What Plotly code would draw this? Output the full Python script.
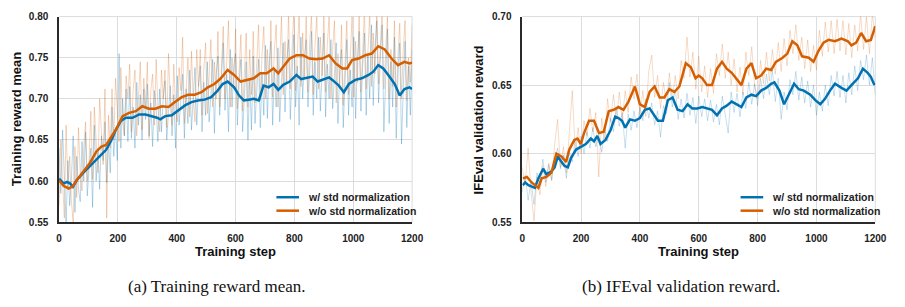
import plotly.graph_objects as go

# ---------------- Data: (a) Training reward mean ----------------
raw_steps_a = list(range(0, 1201, 6))
raw_a_std = [
    0.640,0.585,0.662,0.612,0.548,0.625,0.570,0.603,0.655,0.562,
    0.630,0.590,0.575,0.648,0.600,0.660,0.582,0.615,0.640,0.568,
    0.668,0.600,0.640,0.590,0.655,0.625,0.672,0.598,0.650,0.610,
    0.690,0.630,0.665,0.625,0.755,0.640,0.700,0.655,0.712,0.648,
    0.715,0.652,0.690,0.640,0.720,0.668,0.705,0.650,0.712,0.675,
    0.718,0.655,0.695,0.642,0.710,0.690,0.648,0.712,0.660,0.700,
    0.722,0.650,0.690,0.716,0.655,0.705,0.640,0.728,0.668,0.700,
    0.730,0.652,0.712,0.670,0.735,0.662,0.700,0.738,0.668,0.715,
    0.740,0.660,0.720,0.680,0.745,0.672,0.705,0.748,0.658,0.730,
    0.752,0.680,0.725,0.768,0.686,0.730,0.660,0.760,0.690,0.740,
    0.755,0.668,0.720,0.748,0.660,0.705,0.745,0.650,0.725,0.662,
    0.752,0.670,0.715,0.748,0.665,0.730,0.680,0.765,0.676,0.740,
    0.770,0.668,0.735,0.690,0.762,0.672,0.720,0.768,0.684,0.745,
    0.772,0.675,0.730,0.778,0.690,0.740,0.668,0.775,0.700,0.750,
    0.772,0.690,0.735,0.782,0.680,0.745,0.700,0.775,0.685,0.740,
    0.780,0.678,0.742,0.700,0.772,0.688,0.730,0.768,0.670,0.735,
    0.760,0.665,0.720,0.772,0.680,0.735,0.690,0.775,0.676,0.745,
    0.782,0.685,0.740,0.780,0.680,0.752,0.700,0.790,0.692,0.760,
    0.795,0.695,0.750,0.790,0.660,0.735,0.785,0.670,0.745,0.690,
    0.775,0.652,0.730,0.768,0.645,0.712,0.770,0.665,0.740,0.680,
    0.760]
raw_a_nostd = [
    0.570,0.650,0.600,0.555,0.668,0.590,0.630,0.575,0.550,0.642,
    0.580,0.665,0.610,0.588,0.640,0.672,0.600,0.625,0.685,0.602,
    0.690,0.640,0.610,0.700,0.655,0.620,0.712,0.555,0.680,0.640,
    0.712,0.650,0.725,0.690,0.648,0.738,0.672,0.655,0.728,0.700,
    0.742,0.660,0.712,0.735,0.655,0.700,0.745,0.662,0.725,0.690,
    0.745,0.652,0.710,0.730,0.668,0.748,0.690,0.660,0.735,0.700,
    0.735,0.665,0.755,0.700,0.668,0.742,0.690,0.672,0.738,0.710,
    0.775,0.670,0.720,0.750,0.678,0.758,0.700,0.672,0.760,0.715,
    0.760,0.680,0.735,0.768,0.682,0.720,0.772,0.690,0.745,0.700,
    0.782,0.690,0.740,0.788,0.700,0.760,0.795,0.690,0.750,0.712,
    0.785,0.688,0.745,0.778,0.685,0.730,0.780,0.690,0.760,0.705,
    0.782,0.695,0.740,0.790,0.698,0.755,0.788,0.700,0.760,0.712,
    0.795,0.702,0.760,0.790,0.690,0.750,0.800,0.705,0.770,0.720,
    0.805,0.712,0.765,0.808,0.710,0.770,0.805,0.715,0.780,0.725,
    0.800,0.708,0.770,0.802,0.705,0.765,0.800,0.712,0.775,0.728,
    0.806,0.708,0.768,0.800,0.700,0.760,0.795,0.695,0.755,0.715,
    0.790,0.692,0.750,0.795,0.705,0.765,0.800,0.702,0.770,0.720,
    0.805,0.708,0.772,0.808,0.712,0.770,0.805,0.715,0.780,0.730,
    0.812,0.718,0.775,0.808,0.712,0.765,0.800,0.700,0.760,0.715,
    0.795,0.690,0.755,0.792,0.700,0.760,0.795,0.698,0.750,0.720,
    0.790]

sm_steps_a_std = [0,16,27,38,47,60,82,105,121,138,160,177,194,210,227,250,272,294,316,333,344,361,383,405,428,450,472,495,517,539,
                  556,573,595,612,628,645,662,679,695,712,729,745,762,784,807,823,840,862,879,896,918,929,951,968,985,1007,1029,1052,
                  1068,1085,1102,1119,1141,1158,1174,1191,1200]
sm_a_std = [0.603,0.597,0.599,0.597,0.593,0.601,0.610,0.618,0.624,0.630,0.638,0.649,0.663,0.673,0.677,0.677,0.681,0.681,0.679,0.677,
            0.675,0.679,0.680,0.686,0.692,0.696,0.698,0.699,0.702,0.710,0.718,0.721,0.714,0.704,0.698,0.699,0.700,0.698,0.716,0.714,
            0.718,0.711,0.717,0.721,0.729,0.724,0.725,0.727,0.721,0.723,0.726,0.723,0.716,0.708,0.718,0.723,0.725,0.729,0.733,0.741,
            0.737,0.729,0.718,0.704,0.712,0.714,0.712]

sm_steps_a_nostd = [0,16,33,47,60,82,105,127,144,160,177,194,216,238,261,283,305,327,350,372,394,417,439,461,484,506,528,550,573,595,
                    617,640,662,684,706,729,745,762,784,807,829,851,873,896,918,940,963,979,996,1018,1041,1063,1085,1107,1130,1152,
                    1174,1191,1200]
sm_a_nostd = [0.601,0.594,0.591,0.594,0.601,0.612,0.622,0.636,0.642,0.644,0.653,0.663,0.679,0.683,0.685,0.691,0.688,0.688,0.691,0.690,
              0.696,0.702,0.705,0.705,0.708,0.714,0.718,0.725,0.735,0.729,0.721,0.723,0.725,0.731,0.731,0.737,0.731,0.739,0.749,0.753,
              0.753,0.749,0.748,0.749,0.753,0.743,0.737,0.737,0.747,0.749,0.753,0.755,0.764,0.760,0.749,0.741,0.745,0.743,0.744]

# ---------------- Data: (b) IFEval validation reward ----------------
raw_steps_b = list(range(0, 1201, 10))
raw_b_std = [0.572,0.584,0.566,0.580,0.563,0.586,0.578,0.596,0.579,0.592,0.581,0.596,0.604,0.589,0.599,0.582,0.601,0.594,0.611,0.598,
             0.613,0.600,0.616,0.604,0.619,0.605,0.615,0.601,0.618,0.609,0.626,0.616,0.633,0.620,0.630,0.604,0.629,0.617,0.631,0.619,
             0.634,0.624,0.640,0.626,0.637,0.621,0.631,0.612,0.635,0.629,0.652,0.634,0.647,0.625,0.640,0.626,0.644,0.628,0.641,0.622,
             0.642,0.627,0.640,0.624,0.639,0.623,0.636,0.621,0.642,0.627,0.615,0.645,0.630,0.644,0.627,0.645,0.633,0.652,0.636,0.651,
             0.635,0.655,0.640,0.658,0.643,0.661,0.638,0.655,0.625,0.645,0.632,0.654,0.643,0.660,0.639,0.656,0.637,0.653,0.634,0.650,
             0.628,0.645,0.631,0.650,0.635,0.657,0.642,0.660,0.641,0.657,0.637,0.659,0.643,0.664,0.646,0.668,0.654,0.672,0.650,0.670,
             0.643]
raw_b_nostd = [0.590,0.578,0.604,0.572,0.551,0.583,0.570,0.591,0.576,0.593,0.580,0.606,0.625,0.590,0.605,0.586,0.615,0.646,0.602,0.619,
               0.600,0.624,0.613,0.633,0.616,0.630,0.583,0.626,0.609,0.640,0.623,0.643,0.625,0.645,0.624,0.646,0.630,0.656,0.640,0.658,
               0.628,0.646,0.627,0.660,0.672,0.641,0.657,0.633,0.652,0.636,0.659,0.639,0.657,0.640,0.668,0.655,0.685,0.656,0.674,0.647,
               0.671,0.645,0.664,0.641,0.662,0.644,0.673,0.657,0.680,0.655,0.674,0.650,0.669,0.645,0.663,0.643,0.674,0.657,0.678,0.649,
               0.640,0.668,0.651,0.674,0.653,0.676,0.658,0.681,0.660,0.684,0.664,0.690,0.673,0.694,0.668,0.685,0.662,0.683,0.660,0.679,
               0.661,0.690,0.671,0.696,0.674,0.697,0.673,0.698,0.675,0.697,0.672,0.695,0.670,0.694,0.675,0.702,0.676,0.700,0.673,0.702,
               0.684]

sm_steps_b_std = [2,10,21,32,43,55,71,82,99,110,121,133,144,155,166,183,199,216,233,244,255,266,283,300,316,327,339,350,366,383,
                  400,417,433,450,461,478,495,511,528,545,562,578,595,612,628,645,662,679,695,712,729,745,762,779,795,812,829,846,
                  857,874,890,907,924,940,957,979,996,1013,1029,1046,1063,1085,1102,1119,1141,1158,1174,1185,1197]
sm_b_std = [0.577,0.579,0.577,0.576,0.575,0.582,0.589,0.585,0.587,0.590,0.598,0.594,0.591,0.590,0.597,0.603,0.605,0.607,0.611,0.609,
            0.613,0.607,0.610,0.617,0.627,0.626,0.624,0.619,0.625,0.624,0.626,0.632,0.633,0.628,0.624,0.624,0.639,0.641,0.632,0.631,
            0.636,0.633,0.633,0.634,0.633,0.632,0.628,0.633,0.635,0.638,0.636,0.634,0.641,0.643,0.642,0.646,0.648,0.651,0.652,0.646,
            0.636,0.643,0.651,0.647,0.646,0.643,0.639,0.636,0.640,0.646,0.651,0.648,0.646,0.650,0.655,0.662,0.659,0.656,0.650]

sm_steps_b_nostd = [2,16,32,55,66,82,99,116,133,149,160,177,188,199,210,227,244,261,277,294,311,327,344,361,383,400,417,433,450,467,
                    483,500,517,534,556,573,589,600,612,628,645,662,679,695,712,729,745,762,779,795,812,829,846,862,885,901,918,935,
                    951,974,990,1007,1024,1041,1063,1085,1107,1119,1135,1152,1169,1185,1200]
sm_b_nostd = [0.582,0.583,0.579,0.575,0.582,0.583,0.586,0.600,0.598,0.594,0.603,0.610,0.611,0.607,0.615,0.624,0.624,0.615,0.616,0.631,
              0.632,0.634,0.632,0.638,0.649,0.636,0.634,0.645,0.649,0.641,0.641,0.647,0.645,0.649,0.666,0.663,0.655,0.657,0.655,0.650,
              0.650,0.662,0.667,0.662,0.659,0.654,0.650,0.662,0.666,0.655,0.657,0.662,0.661,0.667,0.670,0.673,0.682,0.679,0.671,0.670,
              0.667,0.675,0.681,0.683,0.682,0.684,0.682,0.679,0.681,0.688,0.682,0.683,0.693]

series_names = ["w/ std normalization", "w/o std normalization"]
x_ticks = [0, 200, 400, 600, 800, 1000, 1200]
y_ticks_a = [0.55, 0.60, 0.65, 0.70, 0.75, 0.80]
y_ticks_b = [0.55, 0.60, 0.65, 0.70]
captions = ["(a) Training reward mean.", "(b) IFEval validation reward."]
x_title = "Training step"
y_titles = ["Training reward mean", "IFEval validation reward"]

# ---------------- Styling ----------------
W, H = 905, 307
BLUE = "#0072B2"
ORANGE = "#D55E00"
BLUE_RAW_A = "rgba(0,114,178,0.28)"
ORANGE_RAW_A = "rgba(213,94,0,0.26)"
BLUE_RAW_B = "rgba(0,114,178,0.22)"
ORANGE_RAW_B = "rgba(213,94,0,0.22)"
SANS = "Liberation Sans, Arial, sans-serif"
SERIF = "Liberation Serif, Times New Roman, serif"
GRID = "#dcdcdc"
AXIS = "#2a2a2a"

def px_x(p):
    return p / W

def px_y(p):
    return 1 - p / H

ydom = [px_y(225), px_y(11)]
xdom_a = [px_x(57), px_x(416)]
xdom_b = [px_x(528), px_x(887)]

fig = go.Figure()

def add_panel(xa, ya, rs, r1, r2, s1x, s1, s2x, s2, c1, c2):
    fig.add_trace(go.Scatter(x=rs, y=r1, mode="lines", line=dict(color=c1, width=1),
                             xaxis=xa, yaxis=ya, showlegend=False, hoverinfo="skip"))
    fig.add_trace(go.Scatter(x=rs, y=r2, mode="lines", line=dict(color=c2, width=1),
                             xaxis=xa, yaxis=ya, showlegend=False, hoverinfo="skip"))
    fig.add_trace(go.Scatter(x=s1x, y=s1, mode="lines", line=dict(color=BLUE, width=2.5),
                             name=series_names[0], xaxis=xa, yaxis=ya, showlegend=False))
    fig.add_trace(go.Scatter(x=s2x, y=s2, mode="lines", line=dict(color=ORANGE, width=2.5),
                             name=series_names[1], xaxis=xa, yaxis=ya, showlegend=False))

add_panel("x", "y", raw_steps_a, raw_a_std, raw_a_nostd,
          sm_steps_a_std, sm_a_std, sm_steps_a_nostd, sm_a_nostd, BLUE_RAW_A, ORANGE_RAW_A)
add_panel("x2", "y2", raw_steps_b, raw_b_std, raw_b_nostd,
          sm_steps_b_std, sm_b_std, sm_steps_b_nostd, sm_b_nostd, BLUE_RAW_B, ORANGE_RAW_B)

tickfont = dict(family=SANS, size=10, color="#222222", weight=700)

def xaxis_cfg(dom, anchor):
    return dict(domain=dom, anchor=anchor, range=[0, 1200], tickvals=x_ticks,
                showgrid=True, gridcolor=GRID, gridwidth=1, zeroline=False,
                showline=True, linecolor=AXIS, linewidth=1.5, ticks="",
                tickfont=tickfont, ticklabelstandoff=6)

def yaxis_cfg(rng, ticks, anchor):
    return dict(domain=ydom, anchor=anchor, range=rng, tickvals=ticks, tickformat=".2f",
                showgrid=True, gridcolor=GRID, gridwidth=1, zeroline=False,
                showline=True, linecolor=AXIS, linewidth=1.5, ticks="",
                tickfont=tickfont, ticklabelstandoff=7)

fig.update_layout(
    width=W, height=H, margin=dict(l=0, r=0, t=0, b=0),
    paper_bgcolor="white", plot_bgcolor="white", showlegend=False,
    xaxis=xaxis_cfg(xdom_a, "y"),
    yaxis=yaxis_cfg([0.55, 0.80], y_ticks_a, "x"),
    xaxis2=xaxis_cfg(xdom_b, "y2"),
    yaxis2=yaxis_cfg([0.55, 0.70], y_ticks_b, "x2"),
)

# light border lines on top and right of each panel
for xr, yr in (("x domain", "y domain"), ("x2 domain", "y2 domain")):
    fig.add_shape(type="line", xref=xr, yref=yr, x0=0, x1=1, y0=1, y1=1, line=dict(color=GRID, width=1), layer="below")
    fig.add_shape(type="line", xref=xr, yref=yr, x0=1, x1=1, y0=0, y1=1, line=dict(color=GRID, width=1), layer="below")

# manual legends (inside bottom-right of each panel)
legfont = dict(family=SANS, size=10.5, color="#222222", weight=700)
for lx0 in (278, 750):
    for i, (nm, col) in enumerate(zip(series_names, [BLUE, ORANGE])):
        yy = px_y(199 + 14 * i)
        fig.add_shape(type="line", xref="paper", yref="paper", x0=px_x(lx0), x1=px_x(lx0 + 23),
                      y0=yy, y1=yy, line=dict(color=col, width=2.5))
        fig.add_annotation(text=nm, x=px_x(lx0 + 30), y=yy, xref="paper", yref="paper",
                           showarrow=False, font=legfont, xanchor="left", yanchor="middle")

titlefont = dict(family=SANS, size=13, color="#111111", weight=700)
ymid = px_y(118)
fig.add_annotation(text=y_titles[0], x=px_x(14), y=ymid, xref="paper", yref="paper", textangle=-90,
                   showarrow=False, font=titlefont, xanchor="center", yanchor="middle")
fig.add_annotation(text=y_titles[1], x=px_x(483), y=ymid, xref="paper", yref="paper", textangle=-90,
                   showarrow=False, font=titlefont, xanchor="center", yanchor="middle")
fig.add_annotation(text=x_title, x=px_x(236.5), y=px_y(256), xref="paper", yref="paper",
                   showarrow=False, font=titlefont, xanchor="center", yanchor="middle")
fig.add_annotation(text=x_title, x=px_x(707.5), y=px_y(256), xref="paper", yref="paper",
                   showarrow=False, font=titlefont, xanchor="center", yanchor="middle")

capfont = dict(family=SERIF, size=17, color="#111111")
fig.add_annotation(text=captions[0], x=px_x(217.5), y=px_y(292), xref="paper", yref="paper",
                   showarrow=False, font=capfont, xanchor="center", yanchor="middle")
fig.add_annotation(text=captions[1], x=px_x(689), y=px_y(292), xref="paper", yref="paper",
                   showarrow=False, font=capfont, xanchor="center", yanchor="middle")

fig.write_html("out.html")
